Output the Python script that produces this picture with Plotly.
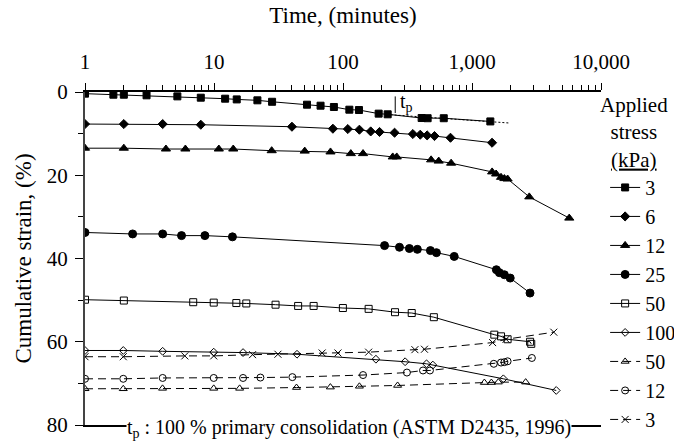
import plotly.graph_objects as go
import math

# ---------------- data (time in minutes, cumulative strain in %) ----------------
names = ["3", "6", "12", "25", "50", "100", "50", "12", "3"]

t_3 = [1, 1.66, 2, 3, 5.2, 7.9, 12.2, 15, 21.7, 28.2, 52.6, 67, 85, 112, 133, 189, 222, 407, 453, 604, 1387]
e_3 = [0.4, 0.65, 0.65, 0.8, 1.05, 1.37, 1.61, 1.78, 2.0, 2.35, 3.05, 3.29, 3.6, 4.25, 4.33, 5.2, 5.36, 6.25, 6.3, 6.3, 7.07]

t_6 = [1, 2.0, 4.0, 7.9, 40.2, 83.5, 109, 134, 164, 192, 251, 348, 397, 449, 512, 681, 1431]
e_6 = [7.7, 7.7, 7.7, 7.86, 8.34, 8.82, 8.9, 9.06, 9.47, 9.6, 9.78, 10.1, 10.26, 10.43, 10.58, 10.99, 12.19]

t_12 = [1, 2, 4.24, 6, 10.9, 14.1, 28, 50.5, 80, 115, 143, 243, 261, 482, 552, 689, 1432, 1538, 1679, 1782, 1888, 2780, 5675]
e_12 = [13.5, 13.5, 13.7, 13.7, 13.7, 13.7, 14.1, 14.2, 14.4, 14.8, 14.8, 15.6, 15.6, 16.3, 16.6, 17.1, 19.2, 19.7, 20.5, 20.8, 20.9, 25.2, 30.3]

t_25 = [1, 2.34, 4.0, 5.6, 8.5, 13.9, 210, 274, 327, 377, 476, 530, 728, 1545, 1630, 1782, 1978, 2817]
e_25 = [33.75, 34.1, 34.1, 34.5, 34.5, 34.8, 36.9, 37.3, 37.6, 37.8, 38.1, 38.6, 39.5, 42.7, 43.4, 43.9, 44.7, 48.3]

t_50 = [1, 2.0, 6.9, 9.95, 14.9, 17.8, 30, 44.9, 59.2, 99.8, 158, 253, 341, 506, 1489, 1679, 1888, 2820, 2880]
e_50 = [49.9, 50.1, 50.5, 50.6, 50.7, 50.8, 51.1, 51.4, 51.4, 51.9, 52.1, 52.9, 53.1, 54.1, 58.3, 58.7, 59.4, 60.0, 60.5]

t_100 = [1, 1.98, 4.0, 9.95, 16.8, 44, 180, 303, 444, 497, 1750, 4498]
e_100 = [62.1, 62.1, 62.3, 62.5, 62.6, 63.0, 64.2, 64.8, 65.3, 65.6, 68.9, 71.7]

t_50u = [1, 1.98, 3.99, 9.95, 15.8, 43.6, 79.8, 134, 265, 1247, 1413, 1600, 2606]
e_50u = [71.3, 71.3, 71.2, 71.2, 71.2, 71.0, 70.9, 70.7, 70.5, 69.8, 69.8, 69.7, 69.7]

t_12u = [1, 1.98, 4.0, 9.95, 16.8, 22.9, 40.5, 143, 313, 417, 472, 1476, 1679, 1782, 1888, 2911]
e_12u = [68.9, 68.9, 68.7, 68.7, 68.7, 68.6, 68.5, 68.0, 67.4, 66.9, 66.9, 65.3, 65.0, 64.9, 64.7, 63.9]

t_3u = [1, 1.98, 5.94, 9.95, 19.9, 31.3, 68.9, 91.4, 158, 361, 428, 1445, 1837, 4305]
e_3u = [63.6, 63.6, 63.4, 63.4, 63.1, 63.0, 62.7, 62.7, 62.5, 61.9, 61.8, 60.2, 59.4, 57.7]

# tangent (secondary compression) construction for the 3 kPa curve, and t_p
tan_t = [234, 1946]
tan_e = [5.46, 7.45]
t_p = 254
tp_bar_e = [1.06, 5.05]

x_major = [1, 10, 100, 1000, 10000]
x_major_text = ["1", "10", "100", "1,000", "10,000"]
y_major = [0, 20, 40, 60, 80]
y_minor = [10, 30, 50, 70]

FONT = "Liberation Serif, Times New Roman, serif"

series = [
    (t_3, e_3, "square", 7, "solid"),
    (t_6, e_6, "diamond", 7, "solid"),
    (t_12, e_12, "triangle-up", 8, "solid"),
    (t_25, e_25, "circle", 8, "solid"),
    (t_50, e_50, "square-open", 7, "solid"),
    (t_100, e_100, "diamond-open", 6, "solid"),
    (t_50u, e_50u, "triangle-up-open", 7, "8px,5px"),
    (t_12u, e_12u, "circle-open", 7, "8px,5px"),
    (t_3u, e_3u, "x-thin-open", 7, "8px,5px"),
]

fig = go.Figure()

# tangent line (dotted) and t_p marker
fig.add_trace(go.Scatter(x=tan_t, y=tan_e, mode="lines", showlegend=False,
                         line=dict(color="black", width=1, dash="2px,2px"), hoverinfo="skip"))
fig.add_trace(go.Scatter(x=[t_p, t_p], y=tp_bar_e, mode="lines", showlegend=False,
                         line=dict(color="black", width=1), hoverinfo="skip"))

for i, (t, e, sym, sz, dash) in enumerate(series):
    fig.add_trace(go.Scatter(
        x=t, y=e, name=names[i], mode="lines+markers",
        line=dict(color="black", width=1, dash=dash),
        marker=dict(symbol=sym, size=sz, color="black",
                    line=dict(color="black", width=1)),
    ))

fig.add_annotation(x=math.log10(t_p), y=2.6, xref="x", yref="y", text="t<sub>p</sub>",
                   showarrow=False, xanchor="left", xshift=3,
                   font=dict(family=FONT, size=20, color="black"))

fig.add_annotation(x=0.511, y=-0.015, xref="paper", yref="paper", yshift=1,
                   text="t<sub>p</sub> : 100 % primary consolidation (ASTM D2435, 1996)",
                   showarrow=False, xanchor="center", yanchor="middle", bgcolor="white",
                   borderpad=0,
                   font=dict(family=FONT, size=20, color="black"))

# legend heading
fig.add_annotation(x=1.064, y=0.877, xref="paper", yref="paper",
                   text="Applied<br>stress<br><span style='text-decoration:underline'>(kPa)</span>",
                   showarrow=False, xanchor="center", yanchor="middle", align="center",
                   font=dict(family=FONT, size=21, color="black"))

minor_x = [m * 10 ** d for d in range(4) for m in range(2, 10)]

fig.update_layout(
    width=674, height=441,
    margin=dict(l=85, r=73, t=92, b=16, autoexpand=False),
    paper_bgcolor="white", plot_bgcolor="white",
    font=dict(family=FONT, size=20, color="black"),
    showlegend=True,
    legend=dict(
        x=1.008, y=0.772, xanchor="left", yanchor="top",
        traceorder="normal",
        bgcolor="rgba(0,0,0,0)",
        font=dict(family=FONT, size=20, color="black"),
    ),
    xaxis=dict(
        type="log", range=[0, 4], side="top",
        title=dict(text="Time, (minutes)", standoff=20, font=dict(family=FONT, size=23)),
        tickvals=x_major, ticktext=x_major_text, ticks="outside", ticklen=7,
        tickwidth=1, tickcolor="black", ticklabelstandoff=6,
        tickfont=dict(family=FONT, size=21),
        minor=dict(tickvals=minor_x, ticks="outside", ticklen=5, tickwidth=1, tickcolor="black"),
        showline=True, linecolor="black", linewidth=1.5, mirror=True,
        showgrid=False, zeroline=False,
    ),
    xaxis2=dict(
        type="log", range=[0, 4], side="top", overlaying="x", anchor="y",
        tickvals=x_major[:-1], ticks="inside", ticklen=7, tickwidth=1, tickcolor="black",
        showticklabels=False, showline=False, showgrid=False, zeroline=False,
    ),
    yaxis=dict(
        range=[80, 0],
        title=dict(text="Cumulative strain, (%)", standoff=9, font=dict(family=FONT, size=23)),
        tickvals=y_major, ticks="outside", ticklen=8, tickwidth=1, tickcolor="black",
        tickfont=dict(family=FONT, size=21), ticklabelstandoff=3,
        minor=dict(tickvals=y_minor, ticks="outside", ticklen=5, tickwidth=1, tickcolor="black"),
        showline=True, linecolor="#444", linewidth=2,
        showgrid=False, zeroline=False,
    ),
    yaxis2=dict(
        range=[80, 0], overlaying="y", anchor="x", side="left",
        tickvals=[20, 40, 60], ticks="inside", ticklen=5, tickwidth=1, tickcolor="black",
        showticklabels=False, showline=False, showgrid=False, zeroline=False,
    ),
)

fig.write_html("out.html")
